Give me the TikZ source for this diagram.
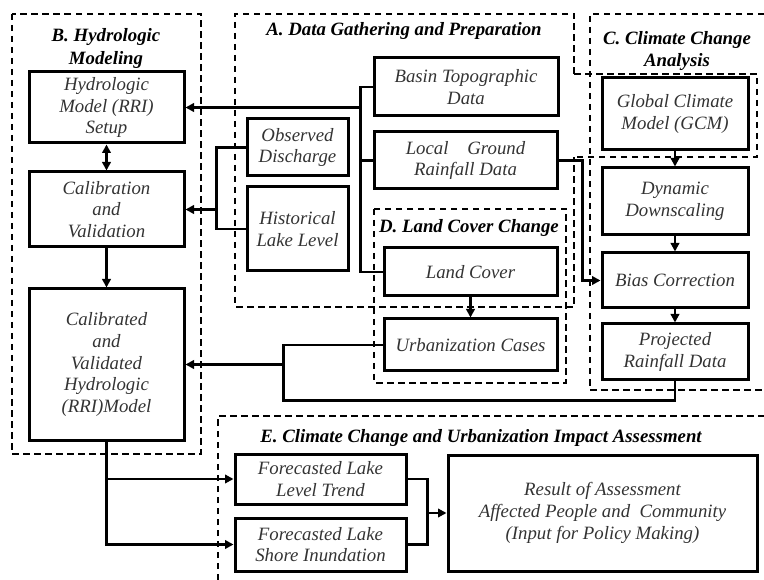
\documentclass[tikz,border=0pt]{standalone}
\usepackage{fontspec}
\setmainfont{Liberation Serif}
\usetikzlibrary{arrows.meta}
\begin{document}
\begin{tikzpicture}[x=1pt,y=-1pt,
  box/.style={draw, line width=3pt, align=center, inner sep=0pt, text=black!80,
    font=\fontsize{18.8}{21.7}\selectfont\itshape},
  zone/.style={draw, line width=1.6pt, dash pattern=on 6.5pt off 4.5pt},
  ztitle/.style={align=center, inner sep=0pt,
    font=\fontsize{18.8}{22.5}\selectfont\bfseries\itshape},
  conn/.style={draw, line width=2.8pt, line join=miter},
  arr/.style={conn, -{Triangle[length=8.5pt,width=8.5pt]}},
  darr/.style={conn, {Triangle[length=8.5pt,width=8.5pt]}-{Triangle[length=8.5pt,width=8.5pt]}},
]
\useasboundingbox (0,0) rectangle (764,580);

% dashed grouping frames
\draw[zone] (12,14) rectangle (201,454);                                  % B
\draw[zone] (574,74) -- (574,14) -- (235,14) -- (235,307) -- (574,307) -- (574,157); % A
\draw[zone] (574,74) -- (757,74) -- (757,157) -- (574,157);               % GCM frame
\draw[zone] (764,14) -- (590,14) -- (590,390) -- (764,390);               % C
\draw[zone] (374,209) rectangle (566,383);                                % D
\draw[zone] (218,580) -- (218,416) -- (764,416);                          % E

% frame titles
\node[ztitle] (tB) at (106,48.5) {B. Hydrologic\\Modeling};
\node[ztitle] (tA) at (404,31) {A. Data Gathering and Preparation};
\node[ztitle] (tC) at (677,51) {C. Climate Change\\Analysis};
\node[ztitle] (tD) at (469,228) {D. Land Cover Change};
\node[ztitle] (tE) at (481,438) {E. Climate Change and Urbanization Impact Assessment};

% process boxes
\node[box, minimum width=155pt, minimum height=71pt]  (setup)  at (106.5,107.5) {Hydrologic\\Model (RRI)\\Setup};
\node[box, minimum width=155pt, minimum height=75pt]  (calib)  at (106.5,209.5) {Calibration\\and\\Validation};
\node[box, minimum width=155pt, minimum height=151pt] (model)  at (106.5,364.5) {Calibrated\\and\\Validated\\Hydrologic\\(RRI)Model};
\node[box, minimum width=184pt, minimum height=58pt]  (basin)  at (466,87)      {Basin Topographic\\Data};
\node[box, minimum width=183pt, minimum height=57pt]  (local)  at (465.5,160.5) {Local\quad Ground\\Rainfall Data};
\node[box, minimum width=101pt, minimum height=57pt]  (obs)    at (297.5,147.5) {Observed\\Discharge};
\node[box, minimum width=101pt, minimum height=84pt]  (hist)   at (297.5,229)   {Historical\\Lake Level};
\node[box, minimum width=173pt, minimum height=48pt]  (land)   at (470.5,272)   {Land Cover};
\node[box, minimum width=173pt, minimum height=52pt]  (urban)  at (470.5,345)   {Urbanization Cases};
\node[box, minimum width=146pt, minimum height=72pt]  (gcm)    at (675,114)     {Global Climate\\Model (GCM)};
\node[box, minimum width=146pt, minimum height=67pt]  (dyn)    at (675,201.5)   {Dynamic\\Downscaling};
\node[box, minimum width=146pt, minimum height=55pt]  (bias)   at (675,280.5)   {Bias Correction};
\node[box, minimum width=146pt, minimum height=56pt]  (proj)   at (675,352)     {Projected\\Rainfall Data};
\node[box, minimum width=171pt, minimum height=50pt]  (trend)  at (320.5,479)   {Forecasted Lake\\Level Trend};
\node[box, minimum width=171pt, minimum height=53pt]  (shore)  at (320.5,544.5) {Forecasted Lake\\Shore Inundation};
\node[box, minimum width=309pt, minimum height=116pt] (result) at (602.5,513)   {Result of Assessment\\Affected People and~ Community\\(Input for Policy Making)};

% junction columns
\coordinate (j1) at (360.5,0);
\coordinate (j2) at (216.5,0);
\coordinate (j3) at (283.5,0);
\coordinate (j4) at (582.5,0);
\coordinate (j5) at (427.5,0);
\coordinate (jb) at (0,400.5);

% data inputs to model setup
\draw[conn] (basin.west) -- (j1 |- basin.west) -- (j1 |- land.west) -- (land.west);
\draw[conn] (local.west) -- (j1 |- local.west);
\draw[arr] (j1 |- setup.east) -- (setup.east);

% observations to calibration
\draw[conn] (obs.west) -- (j2 |- obs.west) -- (j2 |- hist.west) -- (hist.west);
\draw[arr] (j2 |- calib.east) -- (calib.east);

% hydrologic modeling chain
\draw[darr] (setup.south) -- (calib.north);
\draw[arr] (calib.south) -- (model.north);

% land cover chain
\draw[arr] (land.south) -- (urban.north);

% scenarios into calibrated model
\draw[conn] (urban.west) -- (j3 |- urban.west) -- (j3 |- jb) -- (proj.south |- jb) -- (proj.south);
\draw[arr] (j3 |- model.east) -- (model.east);

% climate chain
\draw[arr] (local.east) -- (j4 |- local.east) -- (j4 |- bias.west) -- (bias.west);
\draw[arr] (gcm.south) -- (dyn.north);
\draw[arr] (dyn.south) -- (bias.north);
\draw[arr] (bias.south) -- (proj.north);

% impact assessment
\draw[arr] (model.south) -- (model.south |- shore.west) -- (shore.west);
\draw[arr] (model.south |- trend.west) -- (trend.west);
\draw[conn] (trend.east) -- (j5 |- trend.east) -- (j5 |- shore.east) -- (shore.east);
\draw[arr] (j5 |- result.west) -- (result.west);
\end{tikzpicture}
\end{document}
